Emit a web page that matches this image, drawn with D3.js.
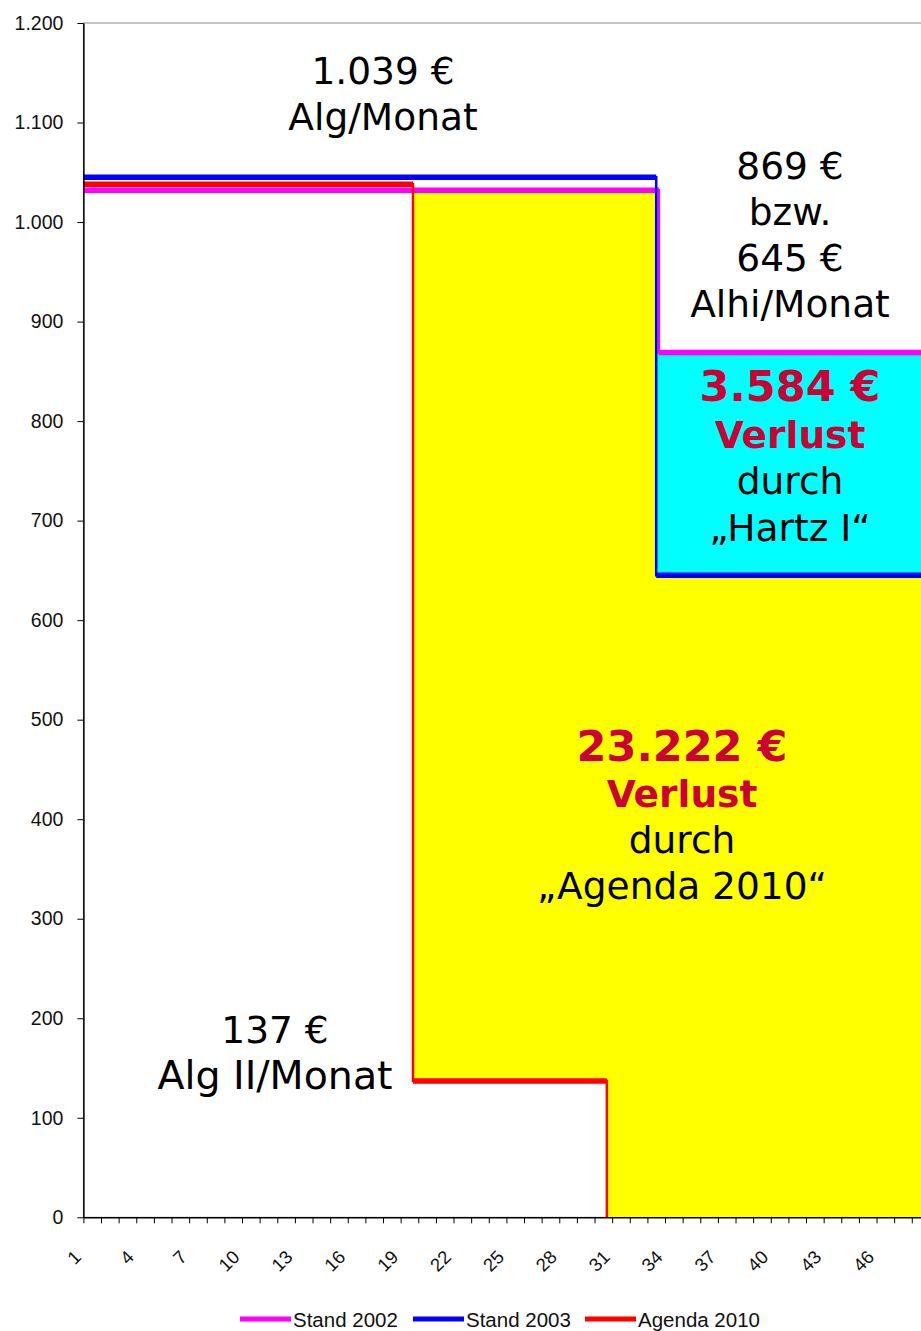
<!DOCTYPE html>
<html>
<head>
<meta charset="utf-8">
<script src="https://cdn.jsdelivr.net/npm/d3@7"></script>
<style>
  body { margin: 0; background: #fff; }
  svg { display: block; }
</style>
</head>
<body>
<div id="container"></div>
<script>
/* DATA */
// months on the x axis (1..48), labelled every third month
const months = d3.range(1, 49);
const monthLabels = [1, 4, 7, 10, 13, 16, 19, 22, 25, 28, 31, 34, 37, 40, 43, 46];
const yTicks = [0, 100, 200, 300, 400, 500, 600, 700, 800, 900, 1000, 1100, 1200];

// step series: benefit per month, from/to measured in months since start
const stand2002 = [
  { from: 0, to: 32.65, value: 1032 },
  { from: 32.65, to: 48, value: 869 }
];
const stand2003 = [
  { from: 0, to: 32.5, value: 1045 },
  { from: 32.5, to: 48, value: 645 }
];
const agenda2010 = [
  { from: 0, to: 18.7, value: 1038 },
  { from: 18.7, to: 29.7, value: 137 },
  { from: 29.7, to: 48, value: 0 }
];

const seriesNames = ["Stand 2002", "Stand 2003", "Agenda 2010"];
const seriesColors = ["#ff00ff", "#0000ff", "#ff0000"];

// annotation texts
const algNote = ["1.039 €", "Alg/Monat"];
const alhiNote = ["869 €", "bzw.", "645 €", "Alhi/Monat"];
const hartzNote = ["3.584 €", "Verlust", "durch", "„Hartz I“"];
const agendaNote = ["23.222 €", "Verlust", "durch", "„Agenda 2010“"];
const alg2Note = ["137 €", "Alg II/Monat"];

/* CONSTANTS */
const width = 921, height = 1331;
const margin = { top: 23, left: 83.4, bottom: 113.7 };

const svg = d3.select("#container")
  .append("svg")
  .attr("width", width)
  .attr("height", height);

// scales
const x = d3.scaleLinear().domain([0, months.length]).range([margin.left, margin.left + 17.625 * months.length]);
const y = d3.scaleLinear().domain([0, 1200]).range([height - margin.bottom, margin.top]);

const de = d3.formatLocale({ decimal: ",", thousands: ".", grouping: [3], currency: ["", " €"] });
const fmt = de.format(",");

// plot area border (only top is visible, right side runs off the picture)
svg.append("rect")
  .attr("x", x(0))
  .attr("y", y(1200))
  .attr("width", x(48) - x(0))
  .attr("height", y(0) - y(1200))
  .attr("fill", "none")
  .attr("stroke", "#8c8c8c")
  .attr("stroke-width", 1);

// FILLS between the series
const valueAt = (series, m) => series.find(s => m >= s.from && m < s.to).value;
const breaks = Array.from(new Set([stand2002, stand2003, agenda2010].flat().flatMap(s => [s.from, s.to])))
  .sort(d3.ascending);
const intervals = d3.pairs(breaks).map(([a, b]) => ({
  a, b,
  v02: valueAt(stand2002, a),
  v03: valueAt(stand2003, a),
  v10: valueAt(agenda2010, a)
}));

// yellow: what Agenda 2010 takes away
svg.append("g")
  .attr("shape-rendering", "crispEdges")
  .selectAll("rect")
  .data(intervals.filter(d => Math.min(d.v02, d.v03) > d.v10))
  .join("rect")
  .attr("x", d => x(d.a))
  .attr("width", d => x(d.b) - x(d.a) + 0.5)
  .attr("y", d => y(Math.min(d.v02, d.v03)))
  .attr("height", d => y(d.v10) - y(Math.min(d.v02, d.v03)))
  .attr("fill", "#ffff00");

// cyan: what Hartz I takes away
svg.append("g")
  .attr("shape-rendering", "crispEdges")
  .selectAll("rect")
  .data(intervals.filter(d => d.v02 > d.v03))
  .join("rect")
  .attr("x", d => x(d.a))
  .attr("width", d => x(d.b) - x(d.a))
  .attr("y", d => y(d.v02))
  .attr("height", d => y(d.v03) - y(d.v02))
  .attr("fill", "#00ffff");

// LINES - thin verticals, thick horizontals (the picture is stretched vertically)
const line = d3.line().x(d => x(d[0])).y(d => y(d[1]));
[stand2002, stand2003, agenda2010].forEach((series, i) => {
  const pts = series.flatMap(s => s.value === 0 ? [[s.from, 0]] : [[s.from, s.value], [s.to, s.value]]);
  svg.append("path")
    .attr("d", line(pts))
    .attr("fill", "none")
    .attr("stroke", seriesColors[i])
    .attr("stroke-width", 2.5);
  svg.append("g")
    .selectAll("line")
    .data(series.filter(s => s.value > 0))
    .join("line")
    .attr("x1", d => x(d.from))
    .attr("x2", d => x(d.to))
    .attr("y1", d => y(d.value))
    .attr("y2", d => y(d.value))
    .attr("stroke", seriesColors[i])
    .attr("stroke-width", 5.5);
});

// AXES
const yAxis = svg.append("g")
  .attr("transform", `translate(${x(0)},0)`)
  .call(d3.axisLeft(y).tickValues(yTicks).tickFormat(fmt).tickSize(6).tickPadding(14).tickSizeOuter(0));
yAxis.select(".domain").attr("stroke-width", 1.5);
yAxis.selectAll("text")
  .attr("font-family", "'Liberation Sans', Arial, sans-serif")
  .attr("font-size", 19.5)
  .attr("fill", "#111");

const xAxis = svg.append("g")
  .attr("transform", `translate(0,${y(0)})`)
  .call(d3.axisBottom(x).tickValues(d3.range(0, months.length + 1)).tickFormat("").tickSize(6).tickSizeOuter(0));
xAxis.select(".domain").attr("stroke-width", 1.5);

// rotated month labels
svg.append("g")
  .selectAll("text")
  .data(monthLabels)
  .join("text")
  .attr("transform", d => `translate(${x(d - 0.5) - 10},${y(0) + 41}) rotate(-45)`)
  .attr("text-anchor", "end")
  .attr("font-family", "'Liberation Sans', Arial, sans-serif")
  .attr("font-size", 18.5)
  .attr("fill", "#111")
  .text(d => d);

// ANNOTATIONS
function drawNote(lines, cx, baseline, step, styles) {
  svg.append("g")
    .selectAll("text")
    .data(lines)
    .join("text")
    .attr("x", cx)
    .attr("y", (d, i) => baseline + i * step)
    .attr("text-anchor", "middle")
    .attr("font-family", "'DejaVu Sans', Verdana, sans-serif")
    .attr("font-size", (d, i) => (styles[i] || {}).size || 37.5)
    .attr("font-weight", (d, i) => (styles[i] || {}).bold ? "bold" : "normal")
    .attr("fill", (d, i) => (styles[i] || {}).color || "#000")
    .text(d => d);
}
const lossStyles = [
  { size: 43, bold: true, color: "#cc0033" },
  { size: 37.5, bold: true, color: "#cc0033" }
];
drawNote(algNote, 383, 84, 46, []);
drawNote(alhiNote, 790, 179, 46, []);
drawNote(hartzNote, 790, 401, 46.5, lossStyles);
drawNote(agendaNote, 682, 761, 46, lossStyles);
drawNote(alg2Note, 275, 1043, 46, [{}, { size: 39.5 }]);

// LEGEND
const legendX = [240, 413, 585];
const legend = svg.append("g")
  .selectAll("g")
  .data(seriesNames)
  .join("g")
  .attr("transform", (d, i) => `translate(${legendX[i]},1319)`);
legend.append("line")
  .attr("x1", 0).attr("x2", 51)
  .attr("stroke", (d, i) => seriesColors[i])
  .attr("stroke-width", 5);
legend.append("text")
  .attr("x", 53)
  .attr("y", 8)
  .attr("font-family", "'Liberation Sans', Arial, sans-serif")
  .attr("font-size", 20.5)
  .attr("fill", "#111")
  .text(d => d);
</script>
</body>
</html>
